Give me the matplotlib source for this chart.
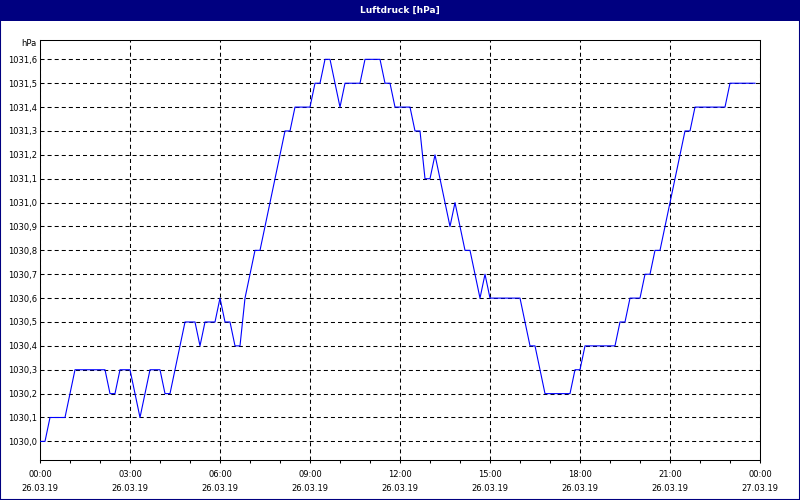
import matplotlib
matplotlib.use('Agg')
import matplotlib.pyplot as plt
import matplotlib.dates as mdates
import pandas as pd
from matplotlib.patches import Rectangle

# Luftdruck alle 10 Minuten, 26.03.19
pressure = [
    1030.0, 1030.0, 1030.1, 1030.1, 1030.1, 1030.1, 1030.2, 1030.3, 1030.3, 1030.3,
    1030.3, 1030.3, 1030.3, 1030.3, 1030.2, 1030.2, 1030.3, 1030.3, 1030.3, 1030.2,
    1030.1, 1030.2, 1030.3, 1030.3, 1030.3, 1030.2, 1030.2, 1030.3, 1030.4, 1030.5,
    1030.5, 1030.5, 1030.4, 1030.5, 1030.5, 1030.5, 1030.6, 1030.5, 1030.5, 1030.4,
    1030.4, 1030.6, 1030.7, 1030.8, 1030.8, 1030.9, 1031.0, 1031.1, 1031.2, 1031.3,
    1031.3, 1031.4, 1031.4, 1031.4, 1031.4, 1031.5, 1031.5, 1031.6, 1031.6, 1031.5,
    1031.4, 1031.5, 1031.5, 1031.5, 1031.5, 1031.6, 1031.6, 1031.6, 1031.6, 1031.5,
    1031.5, 1031.4, 1031.4, 1031.4, 1031.4, 1031.3, 1031.3, 1031.1, 1031.1, 1031.2,
    1031.1, 1031.0, 1030.9, 1031.0, 1030.9, 1030.8, 1030.8, 1030.7, 1030.6, 1030.7,
    1030.6, 1030.6, 1030.6, 1030.6, 1030.6, 1030.6, 1030.6, 1030.5, 1030.4, 1030.4,
    1030.3, 1030.2, 1030.2, 1030.2, 1030.2, 1030.2, 1030.2, 1030.3, 1030.3, 1030.4,
    1030.4, 1030.4, 1030.4, 1030.4, 1030.4, 1030.4, 1030.5, 1030.5, 1030.6, 1030.6,
    1030.6, 1030.7, 1030.7, 1030.8, 1030.8, 1030.9, 1031.0, 1031.1, 1031.2, 1031.3,
    1031.3, 1031.4, 1031.4, 1031.4, 1031.4, 1031.4, 1031.4, 1031.4, 1031.5, 1031.5,
    1031.5, 1031.5, 1031.5, 1031.5,
]
times = pd.date_range('2019-03-26 00:00', periods=len(pressure), freq='10min')

yticks = [1030.0, 1030.1, 1030.2, 1030.3, 1030.4, 1030.5, 1030.6, 1030.7, 1030.8,
          1030.9, 1031.0, 1031.1, 1031.2, 1031.3, 1031.4, 1031.5, 1031.6]
xticks = pd.date_range('2019-03-26 00:00', '2019-03-27 00:00', freq='3h')

navy = '#000080'
plt.rcParams['lines.scale_dashes'] = False

fig = plt.figure(figsize=(8, 5), dpi=100)
fig.patch.set_facecolor('white')
fig.patches.append(Rectangle((0, 0.958), 1, 0.042, transform=fig.transFigure,
                             facecolor=navy, edgecolor='none', zorder=0))
fig.patches.append(Rectangle((0, 0), 1, 1, transform=fig.transFigure,
                             fill=False, edgecolor=navy, linewidth=1.5, zorder=5))
fig.text(0.5, 0.979, 'Luftdruck [hPa]', color='white', fontweight='bold',
         ha='center', va='center', fontsize=6.5)
fig.text(37 / 800, 1 - 44 / 500, 'hPa', ha='right', va='center', fontsize=6)

ax = fig.add_axes([0.05, 0.08, 0.90, 0.84])
ax.plot(times, pressure, color='#0000ff', linewidth=0.8, zorder=3)

ax.set_xlim(xticks[0], xticks[-1])
ax.set_ylim(1029.922, 1031.681)

ax.set_yticks(yticks)
ax.set_yticklabels([f'{v:.1f}'.replace('.', ',') for v in yticks])
ax.set_xticks(xticks)
ax.set_xticklabels([t.strftime('%H:%M\n%d.%m.%y') for t in xticks])
ax.xaxis.set_minor_locator(mdates.HourLocator(interval=1))
for lbl in ax.get_xticklabels():
    lbl.set_linespacing(1.65)

ax.grid(True, which='major', color='black', linestyle=(0, (2.9, 2.2)), linewidth=0.75)
ax.tick_params(axis='x', which='both', direction='out', length=2.2, width=0.75,
               pad=5, labelsize=6)
ax.tick_params(axis='y', length=0, pad=2.2, labelsize=6)
for s in ax.spines.values():
    s.set_color('black')
    s.set_linewidth(0.75)

fig.savefig('out.png', dpi=100)
